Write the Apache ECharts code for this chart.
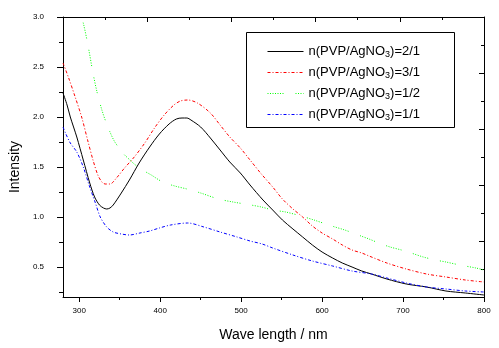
<!DOCTYPE html>
<html>
<head>
<meta charset="utf-8">
<script src="https://cdn.jsdelivr.net/npm/echarts@6/dist/echarts.min.js"></script>
<style>
html,body{margin:0;padding:0;background:#fff;}
#chart{width:499px;height:348px;}
</style>
</head>
<body>
<div id="chart"></div>
<script>
// ---- data ----
const seriesNames = ['n(PVP/AgNO3)=2/1', 'n(PVP/AgNO3)=3/1', 'n(PVP/AgNO3)=1/2', 'n(PVP/AgNO3)=1/1'];

const wlBlack = [280,285,289,297,305,313,319,325,330,334,338,342,352,362,374,387,399,411,420,427,433,438,450,462,474,486,499,511,527,539,551,564,576,588,600,613,625,637,649,661,680,704,729,753,777,800];
const intBlack = [2.24,2.12,2.00,1.80,1.57,1.34,1.20,1.12,1.09,1.08,1.09,1.12,1.24,1.37,1.54,1.70,1.83,1.93,1.98,1.99,1.99,1.97,1.90,1.79,1.67,1.55,1.44,1.32,1.17,1.07,0.97,0.88,0.80,0.72,0.65,0.59,0.54,0.50,0.46,0.43,0.38,0.33,0.30,0.26,0.24,0.22];

const wlRed = [280,287,295,303,311,317,323,328,332,338,346,356,368,381,393,405,417,425,434,446,462,474,486,499,511,525,539,551,564,576,588,600,613,625,637,649,658,680,704,729,753,777,800];
const intRed = [2.54,2.39,2.20,2.00,1.75,1.57,1.42,1.35,1.33,1.33,1.39,1.49,1.60,1.74,1.89,2.02,2.12,2.16,2.17,2.14,2.04,1.92,1.80,1.69,1.57,1.43,1.30,1.18,1.08,1.00,0.91,0.84,0.78,0.72,0.67,0.64,0.61,0.54,0.48,0.43,0.40,0.37,0.35];

const wlGreen = [285,292,300,305,311,317,322,328,333,338,344,355,360,368,376,389,403,418,433,450,472,490,512,525,539,555,574,590,612,628,648,658,670,684,698,710,725,740,753,770,790,800];
const intGreen = [3.48,3.28,3.07,2.94,2.71,2.44,2.25,2.07,1.95,1.85,1.75,1.63,1.59,1.53,1.48,1.42,1.35,1.31,1.28,1.24,1.18,1.15,1.12,1.10,1.07,1.05,1.01,0.97,0.91,0.87,0.81,0.78,0.74,0.70,0.67,0.64,0.60,0.57,0.55,0.52,0.49,0.47];

const wlBlue = [280,283,289,297,305,313,320,326,334,342,352,362,375,387,399,413,434,454,474,495,511,526,539,564,588,613,637,661,680,704,729,753,777,800];
const intBlue = [1.90,1.84,1.74,1.65,1.50,1.30,1.14,1.00,0.90,0.85,0.83,0.82,0.84,0.86,0.89,0.92,0.94,0.90,0.85,0.80,0.76,0.73,0.69,0.62,0.56,0.51,0.46,0.43,0.39,0.34,0.30,0.28,0.26,0.25];

const xTickLabels = [300,400,500,600,700,800];
const xMinorTicks = [350,450,550,650,750];
const yTickLabels = [0.5,1.0,1.5,2.0,2.5,3.0];
const yMinorTicks = [0.25,0.75,1.25,1.75,2.25,2.75];

// ---- chart ----
const pair = (xs, ys) => xs.map((x, i) => [x, ys[i]]);
const FONT = 'Liberation Sans';
const chart = echarts.init(document.getElementById('chart'), null, {renderer: 'canvas'});
const axisBlack = {lineStyle: {color: '#000', width: 1}};

function legendFmt(name) {
  return name.replace('AgNO3', 'AgNO{s|3}');
}

const option = {
  backgroundColor: '#fff',
  animation: false,
  grid: {left: 57, top: 17, right: 15, bottom: 51, containLabel: false},
  graphic: [{
    type: 'rect', left: 246, top: 32, z: 10,
    shape: {width: 208, height: 95},
    style: {fill: '#fff', stroke: '#000', lineWidth: 1}
  }],
  legend: {
    orient: 'vertical', left: 267, top: 44, z: 20,
    padding: [0,0,0,0],
    itemWidth: 36, itemHeight: 14, itemGap: 6,
    data: seriesNames,
    formatter: legendFmt,
    itemStyle: {opacity: 0},
    lineStyle: {width: 1},
    textStyle: {
      fontFamily: FONT, fontSize: 13, color: '#000', lineHeight: 14,
      rich: {s: {fontFamily: FONT, fontSize: 9, verticalAlign: 'bottom', lineHeight: 15}}
    }
  },
  xAxis: [
    {
      type: 'value', position: 'bottom', min: 280, max: 800,
      axisLine: axisBlack, splitLine: {show: false},
      axisTick: {show: true, inside: false, length: 5, lineStyle: {color: '#000'}, customValues: xTickLabels},
      axisLabel: {customValues: xTickLabels, fontFamily: FONT, fontSize: 8, color: '#000', margin: 10},
      name: 'Wave length / nm', nameLocation: 'middle', nameGap: 31,
      nameTextStyle: {fontFamily: FONT, fontSize: 14, color: '#000'}
    },
    {
      type: 'value', position: 'bottom', min: 280, max: 800,
      axisLine: {show: false}, splitLine: {show: false}, axisLabel: {show: false},
      axisTick: {show: true, inside: false, length: 3, lineStyle: {color: '#000'}, customValues: xMinorTicks}
    },
    {
      type: 'value', position: 'top', min: 0, max: 10, interval: 2,
      axisLine: axisBlack, splitLine: {show: false}, axisLabel: {show: false},
      axisTick: {show: true, inside: true, length: 5, lineStyle: {color: '#000'}},
      minorTick: {show: true, splitNumber: 2, length: 3, lineStyle: {color: '#000'}}
    }
  ],
  yAxis: [
    {
      type: 'value', position: 'left', min: 0.2, max: 3.0,
      axisLine: axisBlack, splitLine: {show: false},
      axisTick: {show: true, inside: false, length: 6, lineStyle: {color: '#000'}, customValues: yTickLabels},
      axisLabel: {customValues: yTickLabels, fontFamily: FONT, fontSize: 8, color: '#000', margin: 19,
                  formatter: v => v.toFixed(1)},
      name: 'Intensity', nameLocation: 'middle', nameGap: 33,
      nameTextStyle: {fontFamily: FONT, fontSize: 14, color: '#000', padding: [0,20,0,0]}
    },
    {
      type: 'value', position: 'left', min: 0.2, max: 3.0,
      axisLine: {show: false}, splitLine: {show: false}, axisLabel: {show: false},
      axisTick: {show: true, inside: false, length: 4, lineStyle: {color: '#000'}, customValues: yMinorTicks}
    },
    {
      type: 'value', position: 'right', min: 0, max: 10, interval: 2,
      axisLine: axisBlack, splitLine: {show: false}, axisLabel: {show: false},
      axisTick: {show: true, inside: true, length: 5, lineStyle: {color: '#000'}},
      minorTick: {show: true, splitNumber: 2, length: 3, lineStyle: {color: '#000'}}
    }
  ],
  series: [
    {name: seriesNames[0], type: 'line', data: pair(wlBlack, intBlack), symbol: 'none', smooth: 0.3,
     lineStyle: {color: '#000000', width: 1, type: 'solid'}, itemStyle: {color: '#000000'}},
    {name: seriesNames[1], type: 'line', data: pair(wlRed, intRed), symbol: 'none', smooth: 0.3,
     lineStyle: {color: '#ff0000', width: 1, type: [3,2,1,2]}, itemStyle: {color: '#ff0000'}},
    {name: seriesNames[2], type: 'line', data: pair(wlGreen, intGreen), symbol: 'none', smooth: 0.3,
     lineStyle: {color: '#00ff00', width: 1, type: [1,1.5,1,1.5,1,1.5,1,1.5,1,1.5,1,1.5,1,12]}, itemStyle: {color: '#00ff00'}},
    {name: seriesNames[3], type: 'line', data: pair(wlBlue, intBlue), symbol: 'none', smooth: 0.3,
     lineStyle: {color: '#0000ff', width: 1, type: [3,2,1,2]}, itemStyle: {color: '#0000ff'}}
  ]
};
chart.setOption(option);
</script>
</body>
</html>
